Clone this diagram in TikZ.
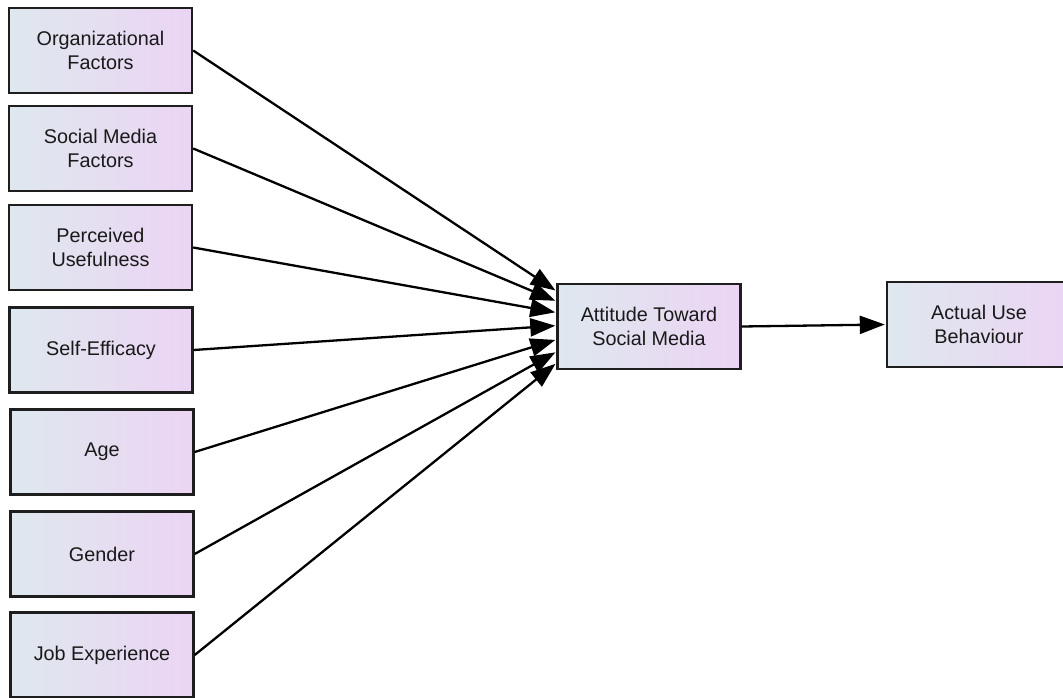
\documentclass[tikz,border=0pt]{standalone}
\usepackage{fontspec}
\setmainfont{Liberation Sans}
\usetikzlibrary{arrows.meta,calc}
\definecolor{boxleft}{RGB}{222,232,238}
\definecolor{boxright}{RGB}{236,212,244}
\definecolor{edgecol}{RGB}{30,30,30}
\tikzset{
  fbox/.style={draw=edgecol, line width=2.4pt, left color=boxleft, right color=boxright,
    minimum width=183pt, minimum height=85pt, inner sep=0pt, align=center,
    font=\fontsize{19.8}{23.5}\selectfont, text=black!90},
  conn/.style={draw=black, line width=2.3pt, -{Triangle[length=25pt,width=18pt]}, shorten >=1pt}
}
\begin{document}
\begin{tikzpicture}[x=1pt,y=-1pt]
\useasboundingbox (0,0) rectangle (1063,698);
\node[fbox] (org) at (100.5,50.5) {Organizational\\Factors};
\node[fbox] (smf) at (100.5,148.5) {Social Media\\Factors};
\node[fbox] (pu)  at (100.5,247.5) {Perceived\\Usefulness};
\node[fbox] (se)  at (101,350) {Self-Efficacy};
\node[fbox] (age) at (102,452) {Age};
\node[fbox] (gen) at (102,554) {Gender};
\node[fbox] (job) at (102,655) {Job Experience};
\node[fbox] (att) at (649,326.5) {Attitude Toward\\Social Media};
\node[fbox, minimum width=184pt] (use) at (979,324.5) {Actual Use\\Behaviour};
\coordinate (t1) at ($(att.north west)!0.094!(att.south west)$);
\coordinate (t2) at ($(att.north west)!0.21!(att.south west)$);
\coordinate (t3) at ($(att.north west)!0.34!(att.south west)$);
\coordinate (t4) at ($(att.north west)!0.49!(att.south west)$);
\coordinate (t5) at ($(att.north west)!0.65!(att.south west)$);
\coordinate (t6) at ($(att.north west)!0.79!(att.south west)$);
\coordinate (t7) at ($(att.north west)!0.92!(att.south west)$);
\draw[conn] (org.east) -- (t1);
\draw[conn] (smf.east) -- (t2);
\draw[conn] (pu.east) -- (t3);
\draw[conn] (se.east) -- (t4);
\draw[conn] (age.east) -- (t5);
\draw[conn] (gen.east) -- (t6);
\draw[conn] (job.east) -- (t7);
\draw[conn] (att.east) -- (use.west);
\end{tikzpicture}
\end{document}
